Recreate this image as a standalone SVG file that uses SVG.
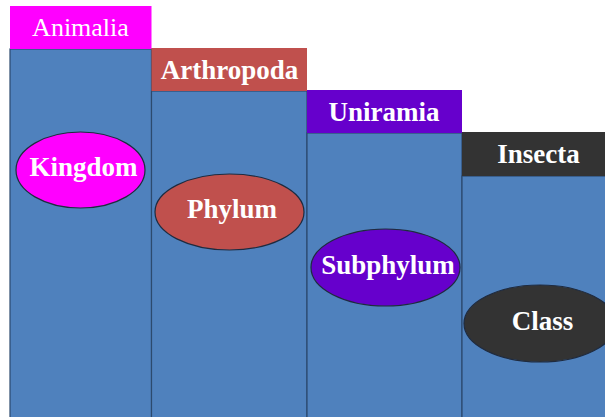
<svg xmlns="http://www.w3.org/2000/svg" width="605" height="417" viewBox="0 0 605 417">
<style>
.bar{fill:#4F81BD;stroke:#2C4A6E;stroke-width:1.2}
.hd{stroke:none}
.el{stroke:#1F2B3F;stroke-width:1.2}
.t{font-family:"Liberation Serif","Times New Roman",serif;fill:#FFFFFF;text-anchor:middle}
.b{font-weight:bold;font-size:27px}
.r{font-size:26px}
</style>
<rect width="605" height="417" fill="#FFFFFF"/>
<g id="kingdom">
<rect class="bar" x="10" y="49" width="141.5" height="372"/>
<rect class="hd" x="10" y="6" width="141.5" height="43" fill="#FF00FF"/>
<text class="t r" x="80.5" y="36">Animalia</text>
<ellipse class="el" cx="80.5" cy="170" rx="64.5" ry="38" fill="#FF00FF"/>
<text class="t b" x="83.5" y="175.5">Kingdom</text>
</g>
<g id="phylum">
<rect class="bar" x="151.5" y="91" width="155.5" height="330"/>
<rect class="hd" x="151.5" y="48" width="155.5" height="43" fill="#C0504D"/>
<text class="t b" x="229.5" y="78.5">Arthropoda</text>
<ellipse class="el" cx="229.5" cy="212" rx="74.5" ry="38" fill="#C0504D"/>
<text class="t b" x="232" y="217.5">Phylum</text>
</g>
<g id="subphylum">
<rect class="bar" x="307" y="133" width="155" height="288"/>
<rect class="hd" x="307" y="90" width="155" height="43" fill="#6600CC"/>
<text class="t b" x="384" y="120.5">Uniramia</text>
<ellipse class="el" cx="385.5" cy="267.5" rx="74.5" ry="38.5" fill="#6600CC"/>
<text class="t b" x="388" y="273.5">Subphylum</text>
</g>
<g id="class">
<rect class="bar" x="462" y="176" width="160" height="245"/>
<rect class="hd" x="462" y="132" width="160" height="44" fill="#333333"/>
<text class="t b" x="538.5" y="162.5">Insecta</text>
<ellipse class="el" cx="540" cy="323.5" rx="76" ry="38.5" fill="#333333"/>
<text class="t b" x="542.5" y="329.5">Class</text>
</g>
<g id="connectors"/>
</svg>
